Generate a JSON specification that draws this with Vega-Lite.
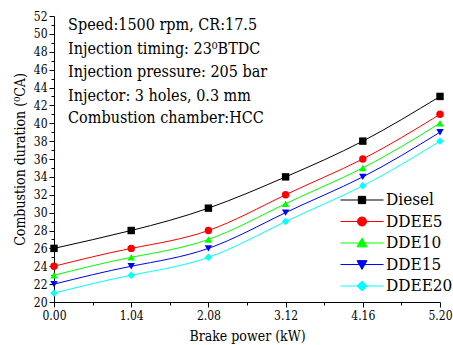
{
  "$schema": "https://vega.github.io/schema/vega-lite/v6.json",
  "autosize": {"type": "none"},
  "width": 386,
  "height": 286,
  "padding": {"left": 54, "top": 16, "right": 13, "bottom": 43},
  "background": "white",
  "config": {
    "view": {"stroke": null},
    "font": "DejaVu Serif Condensed",
    "axis": {"grid": false, "domainColor": "black", "tickColor": "black", "labelColor": "black", "titleColor": "black", "labelFont": "DejaVu Serif Condensed", "titleFont": "DejaVu Serif Condensed", "titleFontWeight": "normal", "labelFontSize": 12, "titleFontSize": 14}
  },
  "datasets": {
    "main": [
      {"series": "Diesel", "power": 0.00, "duration": 26},
      {"series": "Diesel", "power": 1.04, "duration": 28},
      {"series": "Diesel", "power": 2.08, "duration": 30.5},
      {"series": "Diesel", "power": 3.12, "duration": 34},
      {"series": "Diesel", "power": 4.16, "duration": 38},
      {"series": "Diesel", "power": 5.20, "duration": 43},
      {"series": "DDEE5", "power": 0.00, "duration": 24},
      {"series": "DDEE5", "power": 1.04, "duration": 26},
      {"series": "DDEE5", "power": 2.08, "duration": 28},
      {"series": "DDEE5", "power": 3.12, "duration": 32},
      {"series": "DDEE5", "power": 4.16, "duration": 36},
      {"series": "DDEE5", "power": 5.20, "duration": 41},
      {"series": "DDE10", "power": 0.00, "duration": 23},
      {"series": "DDE10", "power": 1.04, "duration": 25},
      {"series": "DDE10", "power": 2.08, "duration": 27},
      {"series": "DDE10", "power": 3.12, "duration": 31},
      {"series": "DDE10", "power": 4.16, "duration": 35},
      {"series": "DDE10", "power": 5.20, "duration": 40},
      {"series": "DDE15", "power": 0.00, "duration": 22},
      {"series": "DDE15", "power": 1.04, "duration": 24},
      {"series": "DDE15", "power": 2.08, "duration": 26},
      {"series": "DDE15", "power": 3.12, "duration": 30},
      {"series": "DDE15", "power": 4.16, "duration": 34},
      {"series": "DDE15", "power": 5.20, "duration": 39},
      {"series": "DDEE20", "power": 0.00, "duration": 21},
      {"series": "DDEE20", "power": 1.04, "duration": 23},
      {"series": "DDEE20", "power": 2.08, "duration": 25},
      {"series": "DDEE20", "power": 3.12, "duration": 29},
      {"series": "DDEE20", "power": 4.16, "duration": 33},
      {"series": "DDEE20", "power": 5.20, "duration": 38}
    ],
    "notes": [
      {"label": "Speed:1500 rpm, CR:17.5", "px": 0.19, "py": 51.0},
      {"label": "Injection timing: 23⁰BTDC", "px": 0.19, "py": 48.3},
      {"label": "Injection pressure: 205 bar", "px": 0.19, "py": 45.7},
      {"label": "Injector: 3 holes, 0.3 mm", "px": 0.19, "py": 43.1},
      {"label": "Combustion chamber:HCC", "px": 0.19, "py": 40.6}
    ]
  },
  "layer": [
    {
      "data": {"name": "main"},
      "mark": {"type": "line", "interpolate": "natural", "strokeWidth": 1},
      "encoding": {
        "x": {"field": "power", "type": "quantitative", "title": "Brake power (kW)",
              "scale": {"domain": [0, 5.2], "nice": false, "zero": false},
              "axis": {"orient": "bottom", "values": [0, 1.04, 2.08, 3.12, 4.16, 5.2], "format": ".2f", "tickSize": 5, "labelPadding": 3, "titlePadding": 8, "labelFlush": false}},
        "y": {"field": "duration", "type": "quantitative", "title": "Combustion duration (⁰CA)",
              "scale": {"domain": [20, 52], "nice": false, "zero": false},
              "axis": {"orient": "left", "values": [20, 22, 24, 26, 28, 30, 32, 34, 36, 38, 40, 42, 44, 46, 48, 50, 52], "tickSize": 5, "labelPadding": 2, "titlePadding": 6}},
        "color": {"field": "series", "type": "nominal",
                  "scale": {"domain": ["Diesel", "DDEE5", "DDE10", "DDE15", "DDEE20"], "range": ["#000000", "#ff0000", "#00ff00", "#0000ff", "#00ffff"]},
                  "legend": {
                   "orient": "none", "legendX": 286, "legendY": 173.5, "title": null, "padding": 0,
                   "labelFont": "DejaVu Serif Condensed", "labelFontSize": 17, "labelColor": "black", "labelOffset": 2,
                   "symbolSize": 1849, "clipHeight": 21, "rowPadding": 0.5, "symbolStrokeWidth": 1,
                   "encode": {"symbols": {"update": {
                     "size": {"value": 1849},
                     "strokeWidth": {"value": 1},
                     "stroke": {"scale": "color", "field": "value"},
                     "fill": {"scale": "color", "field": "value"},
                     "opacity": {"value": 1},
                     "shape": {"signal": "datum.value === 'Diesel' ? 'M-1,0H1M-0.17,-0.17H0.17V0.17H-0.17Z' : datum.value === 'DDEE5' ? 'M-1,0H1M0.21,0A0.21,0.21 0 1,1 -0.21,0A0.21,0.21 0 1,1 0.21,0Z' : datum.value === 'DDE10' ? 'M-1,0H1M0,-0.23L0.23,0.18L-0.23,0.18Z' : datum.value === 'DDE15' ? 'M-1,0H1M0,0.23L0.23,-0.18L-0.23,-0.18Z' : 'M-1,0H1M0,-0.23L0.23,0L0,0.23L-0.23,0Z'"}
                   }}}
                  }},
        "detail": {"field": "series"}
      }
    },
    {
      "data": {"name": "main"},
      "mark": {"type": "point", "filled": true, "size": 55, "opacity": 1},
      "encoding": {
        "x": {"field": "power", "type": "quantitative",
              "axis": {"orient": "bottom", "values": [0.52, 1.56, 2.6, 3.64, 4.68], "labels": false, "domain": false, "tickSize": 3, "title": null}},
        "y": {"field": "duration", "type": "quantitative",
              "axis": {"orient": "left", "values": [21, 23, 25, 27, 29, 31, 33, 35, 37, 39, 41, 43, 45, 47, 49, 51], "labels": false, "domain": false, "tickSize": 3, "title": null}},
        "fill": {"field": "series", "type": "nominal",
                 "sort": ["Diesel", "DDEE5", "DDE10", "DDE15", "DDEE20"],
                 "scale": {"range": ["#000000", "#ff0000", "#00ff00", "#0000ff", "#00ffff"]},
                 "legend": null},
        "shape": {"field": "series", "type": "nominal",
                  "sort": ["Diesel", "DDEE5", "DDE10", "DDE15", "DDEE20"],
                  "scale": {"range": ["square", "circle", "triangle-up", "triangle-down", "diamond"]},
                  "legend": null}
      }
    },
    {
      "data": {"name": "notes"},
      "mark": {"type": "text", "align": "left", "baseline": "middle", "fontSize": 16, "color": "black"},
      "encoding": {
        "x": {"field": "px", "type": "quantitative", "axis": null},
        "y": {"field": "py", "type": "quantitative", "axis": null},
        "text": {"field": "label"}
      }
    }
  ],
  "resolve": {"axis": {"x": "independent", "y": "independent"}}
}
